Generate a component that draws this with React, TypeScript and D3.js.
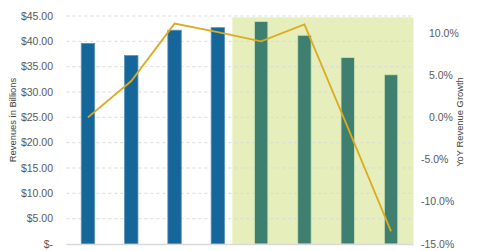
import React from "react";
import * as d3 from "d3";

// Periods on the x axis (no tick labels are drawn for them)
const periods = ["P1", "P2", "P3", "P4", "P5", "P6", "P7", "P8"];
// Revenue per period, $ billions
const revenues = [39.6, 37.2, 42.2, 42.7, 43.9, 41.2, 36.8, 33.4];
// Year-over-year revenue growth, %
const growth = [0.0, 4.3, 11.1, 10.1, 9.0, 11.0, -1.2, -13.5];
// Number of leading periods that are actuals (rest are shaded estimates)
const actualCount = 4;
// Axis ticks
const revenueTicks = [0, 5, 10, 15, 20, 25, 30, 35, 40, 45];
const growthTicks = [-15, -10, -5, 0, 5, 10];

const W = 480;
const H = 251;
const left = 66.3;
const right = 413.5;
const top = 16;
const bottom = 244;
const FONT = "'Liberation Sans', Arial, sans-serif";

export default function App() {
  const x = d3
    .scaleBand<string>()
    .domain(periods)
    .range([left, right - 0.8])
    .paddingInner(0.69)
    .paddingOuter(0.345);
  const yRev = d3.scaleLinear().domain([0, 45]).range([bottom, top]);
  const yGrowth = d3.scaleLinear().domain([-15, 12]).range([bottom, top]);
  const step = x.step();
  const bw = x.bandwidth();

  const shadeStart = (x(periods[actualCount]) as number) - step * 0.51;

  const line = d3
    .line<number>()
    .x((_, i) => (x(periods[i]) as number) + bw / 2)
    .y((d) => yGrowth(d));

  const fmtRev = (v: number) => (v === 0 ? "$-" : "$" + v.toFixed(2));
  const fmtPct = (v: number) => v.toFixed(1) + "%";

  return (
    <svg
      width={W}
      height={H}
      style={{ position: "absolute", left: 0, top: 0 }}
      fontFamily={FONT}
    >
      <rect x={0} y={0} width={W} height={H} fill="#ffffff" />
      {/* shaded estimate region */}
      <rect
        x={shadeStart}
        y={top + 1.3}
        width={right - shadeStart}
        height={bottom - top - 1.3}
        fill="#e6eebb"
      />
      {/* gridlines */}
      {revenueTicks
        .filter((t) => t > 0)
        .map((t) => (
          <line
            key={t}
            x1={left}
            x2={right}
            y1={yRev(t)}
            y2={yRev(t)}
            stroke="#d9d9d9"
            strokeWidth={1}
            strokeDasharray="3,3"
          />
        ))}
      {/* bars */}
      {revenues.map((v, i) => (
        <rect
          key={periods[i]}
          x={x(periods[i])}
          y={yRev(v)}
          width={bw}
          height={bottom - yRev(v)}
          fill={i < actualCount ? "#156699" : "#3f7f6f"}
          stroke={i < actualCount ? "#5b93bb" : "#cfe3b4"}
          strokeWidth={0.8}
        />
      ))}
      {/* baseline */}
      <line
        x1={left}
        x2={right}
        y1={bottom + 0.5}
        y2={bottom + 0.5}
        stroke="#d9d9d9"
        strokeWidth={1.5}
      />
      {/* growth line */}
      <path
        d={line(growth) || ""}
        fill="none"
        stroke="#dcab1f"
        strokeWidth={1.8}
        strokeLinejoin="miter"
      />
      {/* left axis labels */}
      {revenueTicks.map((t) => (
        <text
          key={t}
          x={53}
          y={yRev(t)}
          dy="0.35em"
          textAnchor="end"
          fontSize={10.5}
          fill="#595959"
        >
          {fmtRev(t)}
        </text>
      ))}
      {/* right axis labels */}
      {growthTicks.map((t) => (
        <text
          key={t}
          x={t < 0 ? 421 : 429}
          y={yGrowth(t)}
          dy="0.35em"
          textAnchor="start"
          fontSize={10.5}
          fill="#595959"
        >
          {fmtPct(t)}
        </text>
      ))}
      {/* axis titles */}
      <text
        transform={`translate(16,120) rotate(-90)`}
        textAnchor="middle"
        fontSize={9.4}
        fill="#404040"
      >
        Revenues in Billions
      </text>
      <text
        transform={`translate(463,122) rotate(-90)`}
        textAnchor="middle"
        fontSize={9.4}
        fill="#404040"
      >
        YoY Revenue Growth
      </text>
    </svg>
  );
}
